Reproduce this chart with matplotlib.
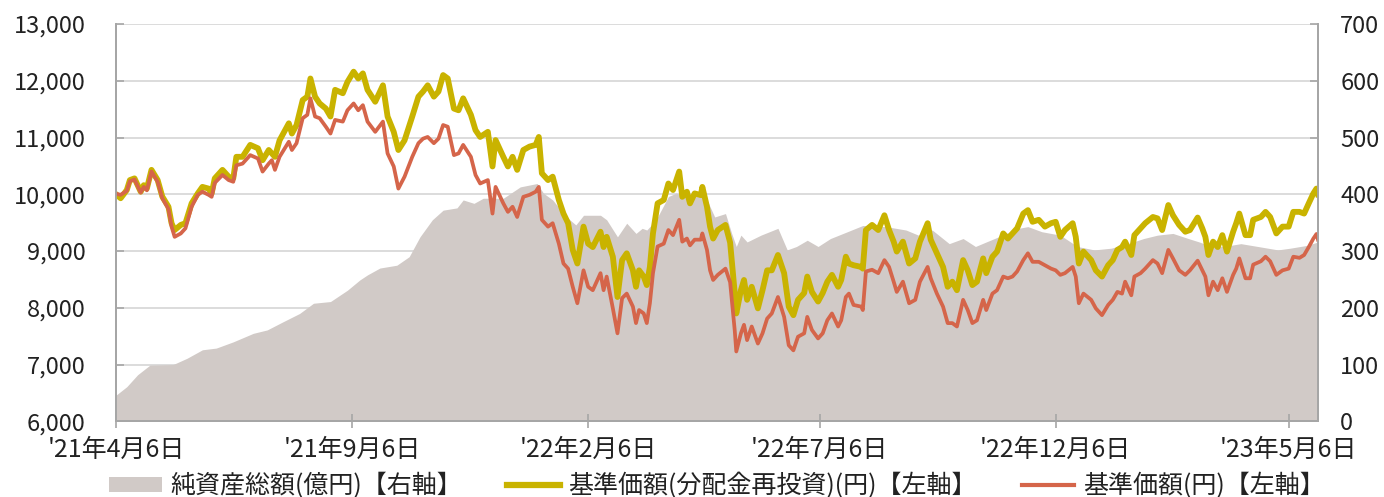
import matplotlib
matplotlib.use("Agg")
import matplotlib.pyplot as plt
import matplotlib.ticker as ticker
from matplotlib.lines import Line2D
from matplotlib.patches import Patch
import pandas as pd

plt.rcParams["font.family"] = ["Noto Sans CJK JP", "DejaVu Sans"]

START = pd.Timestamp("2021-04-06")
END_DAY = 779

# days since 2021-04-06
line_days = [
    0, 3, 7, 9, 12, 16, 18, 20, 23, 27, 30, 34, 36, 38, 42, 45, 49, 53, 56, 60,
    62, 64, 69, 73, 76, 78, 82, 87, 92, 95, 99, 101, 103, 106, 112, 114, 117, 121, 124, 126,
    129, 132, 136, 139, 142, 147, 150, 154, 157, 160, 163, 168, 173, 176, 180, 183, 187, 192, 196, 199,
    202, 206, 209, 212, 215, 219, 222, 225, 230, 233, 236, 241, 244, 246, 251, 254, 257, 260, 264, 268,
    272, 274, 276, 280, 283, 287, 290, 293, 296, 299, 303, 306, 309, 314, 316, 318, 322, 325, 328, 331,
    335, 337, 339, 342, 344, 346, 348, 351, 355, 358, 361, 365, 367, 370, 372, 375, 379, 380, 383, 385,
    387, 390, 395, 398, 401, 402, 405, 407, 409, 412, 416, 419, 422, 425, 429, 433, 436, 439, 442, 446,
    448, 451, 455, 458, 461, 464, 468, 470, 473, 475, 478, 483, 484, 486, 490, 494, 498, 501, 504, 506,
    510, 514, 518, 521, 526, 528, 532, 536, 539, 542, 545, 549, 552, 555, 558, 562, 564, 568, 571, 575,
    578, 581, 584, 588, 591, 594, 598, 602, 606, 609, 612, 615, 620, 622, 624, 627, 632, 635, 639, 643,
    646, 649, 652, 654, 658, 660, 664, 667, 672, 675, 678, 682, 685, 689, 693, 696, 701, 704, 706, 708,
    711, 714, 717, 720, 724, 726, 728, 732, 735, 737, 742, 745, 748, 752, 756, 760, 763, 767, 770, 773,
    776, 778, 779,
]
nav_reinvest = [
    10000, 9930, 10075, 10250, 10280, 10045, 10160, 10100, 10430, 10250, 9960, 9780, 9490, 9370, 9460, 9490, 9840, 10015, 10130, 10100,
    10015, 10280, 10430, 10310, 10280, 10660, 10660, 10870, 10810, 10600, 10780, 10720, 10660, 10950, 11250, 11070, 11220, 11660, 11720, 12040,
    11720, 11600, 11510, 11370, 11840, 11780, 11980, 12160, 12040, 12130, 11840, 11630, 11920, 11370, 11100, 10780, 10950, 11370, 11720, 11810,
    11920, 11720, 11810, 12100, 12040, 11510, 11480, 11690, 11400, 11130, 11010, 11100, 10490, 10955, 10660, 10490, 10660, 10430, 10780, 10840,
    10870, 11010, 10370, 10250, 10310, 9900, 9660, 9490, 9020, 8780, 9430, 9130, 9070, 9340, 9070, 9250, 8900, 8190, 8840, 8960,
    8660, 8370, 8660, 8550, 8400, 8720, 9310, 9840, 9900, 10190, 10075, 10400, 9955, 10045, 9840, 10015, 9985, 10130, 9780, 9430,
    9220, 9370, 9460, 9150, 8260, 7900, 8310, 8490, 8140, 8370, 7990, 8310, 8660, 8660, 8930, 8610, 8020, 7870, 8140, 8260,
    8550, 8280, 8110, 8260, 8460, 8580, 8370, 8490, 8900, 8780, 8750, 8720, 8690, 9370, 9460, 9370, 9630, 9370, 9165, 8990,
    9165, 8780, 8870, 9165, 9490, 9200, 8960, 8720, 8370, 8460, 8310, 8840, 8660, 8400, 8460, 8870, 8610, 8900, 8990, 9310,
    9220, 9310, 9400, 9660, 9720, 9515, 9550, 9430, 9490, 9515, 9250, 9370, 9490, 9250, 8780, 8990, 8840, 8660, 8550, 8750,
    8840, 9020, 9070, 9165, 8930, 9280, 9400, 9490, 9600, 9575, 9370, 9810, 9630, 9460, 9340, 9370, 9590, 9400, 9250, 8930,
    9165, 9070, 9280, 8990, 9340, 9490, 9660, 9280, 9280, 9550, 9600, 9690, 9600, 9310, 9430, 9430, 9690, 9690, 9660, 9840,
    10015, 10100, 10000,
]
nav = [
    10010, 9990, 10060, 10230, 10260, 10030, 10130, 10070, 10400, 10220, 9930, 9740, 9430, 9250, 9310, 9400, 9780, 9990, 10045, 9990,
    9955, 10200, 10340, 10250, 10220, 10510, 10540, 10690, 10630, 10400, 10540, 10600, 10430, 10660, 10925, 10780, 10900, 11340, 11400, 11690,
    11370, 11340, 11190, 11070, 11310, 11280, 11480, 11600, 11480, 11570, 11280, 11100, 11280, 10720, 10490, 10100, 10310, 10660, 10900, 10980,
    11010, 10900, 10980, 11220, 11190, 10690, 10720, 10870, 10660, 10340, 10190, 10250, 9660, 10130, 9840, 9690, 9780, 9600, 9955, 9990,
    10045, 10130, 9550, 9430, 9490, 9130, 8780, 8690, 8370, 8080, 8660, 8370, 8310, 8610, 8310, 8550, 7990, 7550, 8170, 8250,
    8020, 7730, 7960, 7900, 7730, 8080, 8610, 9080, 9130, 9370, 9280, 9550, 9165, 9220, 9100, 9200, 9200, 9310, 9020, 8660,
    8490, 8580, 8690, 8450, 7600, 7230, 7550, 7700, 7430, 7670, 7370, 7550, 7810, 7900, 8190, 7840, 7340, 7250, 7490, 7550,
    7840, 7610, 7460, 7550, 7780, 7900, 7670, 7780, 8190, 8250, 8050, 8020, 7960, 8640, 8670, 8610, 8840, 8720, 8460, 8280,
    8460, 8080, 8140, 8460, 8720, 8520, 8250, 8020, 7730, 7730, 7670, 8140, 7960, 7730, 7780, 8140, 7960, 8250, 8310, 8550,
    8520, 8550, 8640, 8840, 8960, 8810, 8810, 8750, 8690, 8660, 8580, 8610, 8720, 8550, 8080, 8250, 8140, 7990, 7870, 8050,
    8140, 8280, 8250, 8460, 8220, 8550, 8610, 8690, 8840, 8780, 8610, 9020, 8870, 8660, 8580, 8660, 8830, 8660, 8550, 8220,
    8460, 8310, 8520, 8280, 8580, 8690, 8870, 8520, 8520, 8760, 8820, 8900, 8820, 8580, 8660, 8690, 8900, 8880, 8930, 9070,
    9220, 9300, 9200,
]

asset_days = [
    0, 7, 14, 22, 37, 46, 56, 65, 76, 89, 98, 108, 119, 128, 139, 150, 158, 163, 171, 182,
    190, 197, 205, 212, 221, 225, 232, 238, 251, 262, 273, 277, 283, 292, 298, 303, 314, 318, 325, 331,
    337, 341, 344, 350, 358, 363, 371, 380, 384, 388, 395, 399, 402, 405, 409, 418, 429, 435, 441, 448,
    455, 463, 474, 484, 499, 512, 520, 529, 540, 549, 557, 564, 572, 585, 591, 600, 612, 623, 634, 645,
    656, 666, 675, 685, 695, 702, 708, 718, 729, 740, 753, 761, 772, 779,
]
net_assets = [
    46, 61, 82, 99, 100, 111, 126, 129, 140, 155, 161, 175, 190, 208, 211, 231, 249, 258, 270, 275,
    290, 325, 355, 372, 376, 390, 384, 393, 393, 413, 419, 402, 390, 360, 346, 363, 363, 355, 325, 349,
    331, 340, 337, 355, 396, 402, 396, 396, 384, 360, 366, 331, 308, 328, 316, 328, 340, 302, 308, 319,
    308, 322, 334, 345, 343, 337, 328, 337, 313, 322, 308, 316, 325, 340, 343, 334, 328, 308, 302, 305,
    313, 322, 328, 331, 322, 316, 310, 308, 313, 308, 302, 305, 310, 316,
]

tick_dates = ["2021-04-06", "2021-09-06", "2022-02-06", "2022-07-06", "2022-12-06", "2023-05-06"]
tick_labels = ["'21年4月6日", "'21年9月6日", "'22年2月6日", "'22年7月6日", "'22年12月6日", "'23年5月6日"]

GRAY, YELLOW, ORANGE = "#d1cac7", "#c9b300", "#d5654a"
AXC, TXT = "#a6a6a6", "#222222"

x_line = START + pd.to_timedelta(line_days, unit="D")
x_area = START + pd.to_timedelta(asset_days, unit="D")

fig = plt.figure(figsize=(13.84, 4.97), dpi=100)
ax = fig.add_axes([116 / 1384, 1 - 421.3 / 497, (1318 - 116) / 1384, (421.3 - 24) / 497])
ax2 = ax.twinx()

# area on right axis, behind
ax2.fill_between(x_area, 0, net_assets, color=GRAY, lw=0)
ax2.set_ylim(0, 700)
ax2.yaxis.set_major_locator(ticker.MultipleLocator(100))
ax2.set_axisbelow(True)
ax2.grid(axis="y", color="#d9d9d9", lw=1.3)

ax.set_zorder(ax2.get_zorder() + 1)
ax.patch.set_visible(False)
ax.plot(x_line, nav_reinvest, color=YELLOW, lw=4.2, solid_joinstyle="round")
ax.plot(x_line, nav, color=ORANGE, lw=2.7, solid_joinstyle="round")
ax.set_ylim(6000, 13000)
ax.yaxis.set_major_locator(ticker.MultipleLocator(1000))
ax.yaxis.set_major_formatter(ticker.StrMethodFormatter("{x:,.0f}"))
ax.set_xlim(START, START + pd.Timedelta(days=END_DAY))
ax.set_xticks(pd.to_datetime(tick_dates))
ax.set_xticklabels(tick_labels)

for a in (ax, ax2):
    for s in a.spines.values():
        s.set_color(AXC)
        s.set_linewidth(1.3)
    a.spines["top"].set_visible(False)

ax.tick_params(axis="y", direction="in", length=6, color=AXC, width=1.2, pad=22,
               labelsize=17, labelcolor=TXT)
ax.tick_params(axis="x", direction="inout", length=10, color=AXC, width=1.2, pad=6,
               labelsize=18, labelcolor=TXT)
ax2.tick_params(axis="y", direction="in", length=6, color=AXC, width=1.2, pad=16,
                labelsize=17, labelcolor=TXT)

handles = [
    Patch(facecolor=GRAY, edgecolor="none", label="純資産総額(億円)【右軸】"),
    Line2D([0], [0], color=YELLOW, lw=4.5, label="基準価額(分配金再投資)(円)【左軸】"),
    Line2D([0], [0], color=ORANGE, lw=3, label="基準価額(円)【左軸】"),
]
fig.legend(handles=handles, loc="center", bbox_to_anchor=(717 / 1384, 1 - 486 / 497), ncol=3,
           frameon=False, fontsize=18, handlelength=2.1, handleheight=0.55, handletextpad=0.35,
           columnspacing=1.8, labelcolor=TXT, borderaxespad=0, borderpad=0)

fig.savefig("out.png", dpi=100)
